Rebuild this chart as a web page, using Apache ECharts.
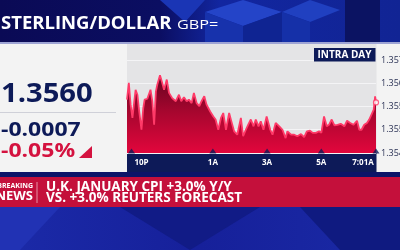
<!DOCTYPE html>
<html><head><meta charset="utf-8">
<script src="https://cdn.jsdelivr.net/npm/echarts@6/dist/echarts.min.js"></script>
<style>html,body{margin:0;padding:0;background:#141f8c;}#c{width:400px;height:250px;}</style>
</head><body><div id="c"></div>
<script>
// minutes after 10 PM
const times = [-10,-6,-2,2,9,13,17,22,26,29,35,42,46,50,54,57,63,68,72,78,83,90,98,105,110,116,122,127,133,138,144,150,155,161,166,174,181,186,192,198,203,209,216,221,227,234,242,247,253,258,264,270,275,281,286,292,299,307,312,319,327,334,341,345,353,360,367,375,382,388,395,401,408,415,420,426,432,437,443,449,456,463,471,477,484,491,499,504,509,515,521,526,531,536,539,541];
const prices = [1.35612,1.35666,1.35596,1.35553,1.35644,1.35628,1.35574,1.35515,1.35585,1.35612,1.35615,1.35644,1.35607,1.35531,1.35639,1.35660,1.35691,1.35666,1.35644,1.35677,1.35634,1.35617,1.35607,1.35628,1.35607,1.35620,1.35607,1.35612,1.35601,1.35634,1.35601,1.35591,1.35607,1.35623,1.35596,1.35574,1.35558,1.35548,1.35515,1.35553,1.35569,1.35515,1.35569,1.35542,1.35510,1.35499,1.35553,1.35494,1.35515,1.35531,1.35548,1.35526,1.35548,1.35526,1.35542,1.35515,1.35558,1.35515,1.35499,1.35537,1.35526,1.35515,1.35488,1.35510,1.35499,1.35499,1.35494,1.35501,1.35491,1.35510,1.35512,1.35505,1.35505,1.35510,1.35505,1.35558,1.35526,1.35531,1.35548,1.35529,1.35531,1.35534,1.35526,1.35544,1.35537,1.35531,1.35544,1.35515,1.35515,1.35531,1.35537,1.35548,1.35564,1.35580,1.35623,1.35603];
const xTickValues = [0,180,300,420,541];
const xTickLabels = ['10P','1A','3A','5A','7:01A'];
const yMin = 1.3544, yMax = 1.3574, yStep = 0.00075;
const yTickLabels = ['1.3544','1.3552','1.3559','1.3567','1.3574'];
const titleText = 'STERLING/DOLLAR';
const ricText = 'GBP=';
const lastText = '1.3560';
const changeText = '-0.0007';
const pctText = '-0.05%';
const badgeText = 'INTRA DAY';
const newsLines = ['U.K. JANUARY CPI +3.0% Y/Y','VS. +3.0% REUTERS FORECAST'];

const FONT = '"Open Sans", "DejaVu Sans", sans-serif';
const NAVY = '#0d1a58';
const chart = echarts.init(document.getElementById('c'), null, {renderer:'canvas'});
const seriesData = times.map((t,i)=>[t, prices[i]]);
const lastPt = seriesData[seriesData.length-1];

function txt(x,y,text,font,fill,align,sx){
  return {type:'text', x:x, y:y, z:50, scaleX:sx||1,
    style:{text:text, font:font, fill:fill, textAlign:align||'left', textVerticalAlign:'middle'}};
}

chart.setOption({
  animation:false,
  backgroundColor:'#141f8c',
  grid:{left:127, right:24, top:60, bottom:97, show:false, outerBoundsMode:'none', containLabel:false},
  xAxis:{type:'value', min:-10, max:541,
    axisLine:{show:false}, axisTick:{show:false}, splitLine:{show:false},
    axisLabel:{customValues:xTickValues, margin:6, color:'#ffffff', fontSize:8, fontWeight:'bold', fontFamily:FONT,
      hideOverlap:false,
      formatter:function(v){const i=xTickValues.indexOf(v); const s=xTickLabels[i];
        if(i===0) return '{a|'+s+'}'; if(i===xTickLabels.length-1) return '{b|'+s+'}'; return s;},
      rich:{a:{padding:[0,0,0,20], color:'#fff', fontSize:8, fontWeight:'bold', fontFamily:FONT},
            b:{padding:[0,26,0,0], color:'#fff', fontSize:8, fontWeight:'bold', fontFamily:FONT}}}},
  yAxis:{type:'value', position:'right', min:yMin, max:yMax, interval:yStep,
    axisLine:{show:false}, axisTick:{show:false},
    splitLine:{lineStyle:{color:'#f4f4f6', width:1}},
    axisLabel:{margin:5, color:'#2c3356', fontSize:9, fontFamily:FONT,
      formatter:function(v,i){return yTickLabels[i];}}},
  graphic:[
    // header
    {type:'rect', z:-10, shape:{x:0,y:0,width:400,height:43}, style:{fill:new echarts.graphic.LinearGradient(0,0,1,0,[{offset:0,color:'#0a0a55'},{offset:0.4,color:'#0b0e62'},{offset:0.55,color:'#1226a0'},{offset:1,color:'#112494'}])}},
    {type:'polygon', z:-9, shape:{points:[[160,0],[205,0],[185,22]]}, style:{fill:'#1a35b5'}},
    {type:'polygon', z:-9, shape:{points:[[205,12],[243,0],[282,12],[243,26]]}, style:{fill:'#2444c8'}},
    {type:'polygon', z:-9, shape:{points:[[205,12],[243,26],[243,43],[205,43]]}, style:{fill:'#1732ac'}},
    {type:'polygon', z:-9, shape:{points:[[243,26],[282,12],[282,43],[243,43]]}, style:{fill:'#0f2492'}},
    {type:'polygon', z:-9, shape:{points:[[282,12],[310,0],[340,10],[310,22]]}, style:{fill:'#2040c0'}},
    {type:'polygon', z:-9, shape:{points:[[282,12],[310,22],[310,43],[282,43]]}, style:{fill:'#1530a8'}},
    {type:'rect', z:-9, shape:{x:345,y:0,width:35,height:43}, style:{fill:'#0b1362'}},
    {type:'rect', z:-9, shape:{x:0,y:42,width:400,height:2}, style:{fill:'#9ea4d4'}},
    // panel
    {type:'rect', z:-8, shape:{x:0,y:44,width:400,height:128}, style:{fill:'#f3f3f3'}},
    {type:'rect', z:-7, shape:{x:127,y:44,width:249.5,height:110}, style:{fill:'#e4e4e6'}},
    {type:'rect', z:-7, shape:{x:127,y:153,width:249.5,height:19}, style:{fill:NAVY}},
    {type:'rect', z:-7, shape:{x:0,y:112,width:116,height:1}, style:{fill:'#cfd0d8'}},
    // bottom background
    {type:'rect', z:-10, shape:{x:0,y:172,width:400,height:78}, style:{fill:new echarts.graphic.LinearGradient(0,0,1,0,[{offset:0,color:'#1b2aa8'},{offset:0.5,color:'#16209a'},{offset:1,color:'#1a2aa6'}])}},
    {type:'rect', z:-9, shape:{x:0,y:172,width:400,height:5}, style:{fill:'#0c1468'}},
    {type:'polygon', z:-9, shape:{points:[[120,207],[190,250],[260,207]]}, style:{fill:'#111b86'}},
    {type:'polygon', z:-9, shape:{points:[[300,207],[400,207],[400,250],[340,250]]}, style:{fill:'#0f1a80'}},
    {type:'polygon', z:-9, shape:{points:[[0,207],[60,207],[20,250],[0,250]]}, style:{fill:'#2132b4'}},
    {type:'rect', z:-6, shape:{x:0,y:177,width:400,height:30}, style:{fill:'#c4103b'}},
    {type:'rect', z:-5, shape:{x:36.5,y:182,width:1,height:21}, style:{fill:'rgba(255,255,255,0.55)'}},
    // texts
    txt(1,24,titleText,'bold 18.5px '+FONT,'#ffffff','left'),
    txt(177,25,ricText,'13px '+FONT,'#ffffff','left',1.25),
    txt(1,94,lastText,'bold 27px '+FONT,NAVY,'left',1.08),
    txt(1,130,changeText,'bold 20px '+FONT,NAVY,'left',1.15),
    txt(1,151,pctText,'bold 20px '+FONT,'#d4123f','left',1.15),
    {type:'polygon', z:50, shape:{points:[[79,158],[92,158],[92,146]]}, style:{fill:'#d4123f'}},
    {type:'rect', z:50, shape:{x:314,y:48,width:61.5,height:13.5}, style:{fill:NAVY}},
    txt(344.5,55,badgeText,'bold 10px '+FONT,'#ffffff','center'),
    txt(33,186,'BREAKING','bold 7px '+FONT,'#ffffff','right'),
    txt(33,196.5,'NEWS','bold 13px '+FONT,'#ffffff','right'),
    txt(46,187,newsLines[0],'bold 13.5px '+FONT,'#ffffff','left'),
    txt(46,198.5,newsLines[1],'bold 13.5px '+FONT,'#ffffff','left')
  ],
  series:[
    {type:'line', data:seriesData, showSymbol:false, z:3,
      lineStyle:{color:'#ff3a68', width:1.8},
      areaStyle:{origin:'start', opacity:1, color:new echarts.graphic.LinearGradient(0,0,0,1,[{offset:0,color:'#640420'},{offset:0.45,color:'#a4062e'},{offset:1,color:'#e2063c'}], false)}},
    {type:'scatter', data:[lastPt], symbol:'circle', symbolSize:5, z:6,
      itemStyle:{color:'#ffffff', borderColor:'#ff3a68', borderWidth:1.2}},
    {type:'scatter', data:xTickValues.map(v=>[v,yMin]), symbol:'triangle', symbolSize:[7,5], symbolOffset:[0,-2], z:5, clip:false,
      itemStyle:{color:NAVY}}
  ]
});
</script></body></html>
